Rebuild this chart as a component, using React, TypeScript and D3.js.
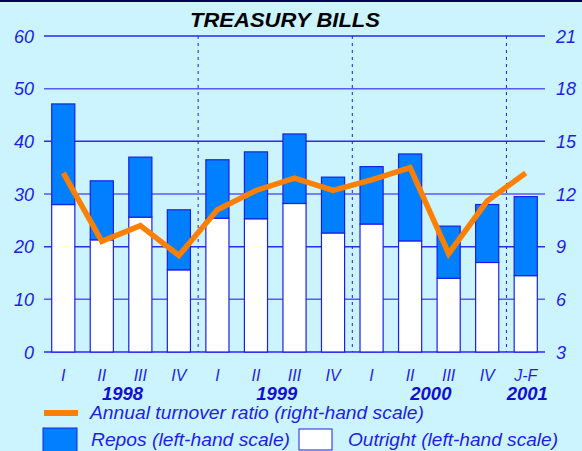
import * as d3 from "d3";
import React from "react";

const quarters = ["I", "II", "III", "IV", "I", "II", "III", "IV", "I", "II", "III", "IV", "J-F"];
const outright = [28.0, 21.3, 25.6, 15.6, 25.4, 25.3, 28.2, 22.6, 24.3, 21.1, 14.0, 17.0, 14.5];
const repos = [19.1, 11.2, 11.4, 11.4, 11.1, 12.7, 13.2, 10.6, 10.9, 16.5, 9.9, 11.0, 15.0];
const turnover = [13.2, 9.3, 10.2, 8.5, 11.1, 12.2, 12.9, 12.2, 12.8, 13.5, 8.6, 11.6, 13.2];
const years = [
  { label: "1998", from: 1, to: 2 },
  { label: "1999", from: 5, to: 6 },
  { label: "2000", from: 9, to: 10 },
  { label: "2001", from: 12, to: 12 },
];
const leftTicks = [0, 10, 20, 30, 40, 50, 60];
const rightTicks = [3, 6, 9, 12, 15, 18, 21];
const yearBreaks = [3, 7, 11];

const W = 582;
const H = 451;
const BLUE = "#1e1ee6";
const FONT = "'Liberation Sans', Arial, sans-serif";

export default function App() {
  const x = d3
    .scaleBand<number>()
    .domain(d3.range(quarters.length))
    .range([44, 545])
    .paddingInner(0.4)
    .paddingOuter(0.2);
  const yL = d3.scaleLinear().domain([0, 60]).range([352, 36]);
  const yR = d3.scaleLinear().domain([3, 21]).range([352, 36]);
  const cx = (i: number) => (x(i) as number) + x.bandwidth() / 2;

  const line = d3
    .line<number>()
    .x((_, i) => cx(i))
    .y((d) => yR(d));

  return (
    <svg
      width={W}
      height={H}
      style={{ position: "fixed", left: 0, top: 0, display: "block" }}
      fontFamily={FONT}
    >
      <rect width={W} height={H} fill="#ccf4ff" />
      <line x1={0} x2={W} y1={1} y2={1} stroke="#000060" strokeWidth={2} />
      <text
        x={285}
        y={27}
        textAnchor="middle"
        fontSize={21}
        fontWeight="bold"
        fontStyle="italic"
        fill="#000"
        textLength={190}
        lengthAdjust="spacingAndGlyphs"
      >
        TREASURY BILLS
      </text>

      {leftTicks.map((t, i) => (
        <g key={t}>
          <line
            x1={44}
            x2={545}
            y1={yL(t)}
            y2={yL(t)}
            stroke={i % 2 === 0 ? "#2a2af0" : "#5a5af5"}
            strokeWidth={1.5}
          />
          <text
            x={34}
            y={yL(t) + 6.5}
            textAnchor="end"
            fontSize={18}
            fontStyle="italic"
            fill={BLUE}
          >
            {t}
          </text>
          <text
            x={556}
            y={yR(rightTicks[i]) + 6.5}
            fontSize={18}
            fontStyle="italic"
            fill={BLUE}
          >
            {rightTicks[i]}
          </text>
        </g>
      ))}

      {yearBreaks.map((b) => {
        const xb = ((x(b) as number) + x.bandwidth() + (x(b + 1) as number)) / 2;
        return (
          <line
            key={b}
            x1={xb}
            x2={xb}
            y1={yL(60)}
            y2={yL(0)}
            stroke="#1e1ee6"
            strokeWidth={1}
            strokeDasharray="3,4"
          />
        );
      })}

      {quarters.map((q, i) => (
        <g key={i}>
          <rect
            x={x(i)}
            y={yL(outright[i])}
            width={x.bandwidth()}
            height={yL(0) - yL(outright[i])}
            fill="#fff"
            stroke="#1e1ee6"
            strokeWidth={1.2}
          />
          <rect
            x={x(i)}
            y={yL(outright[i] + repos[i])}
            width={x.bandwidth()}
            height={yL(outright[i]) - yL(outright[i] + repos[i])}
            fill="#0080ff"
            stroke="#1e1ee6"
            strokeWidth={1.2}
          />
          <text
            x={cx(i)}
            y={381}
            textAnchor="middle"
            fontSize={16}
            fontStyle="italic"
            fill={BLUE}
          >
            {q}
          </text>
        </g>
      ))}

      <path
        d={line(turnover) || ""}
        fill="none"
        stroke="#ff8000"
        strokeWidth={5.5}
        strokeLinejoin="miter"
      />

      {years.map((y) => (
        <text
          key={y.label}
          x={(cx(y.from) + cx(y.to)) / 2 + 1.5}
          y={400}
          textAnchor="middle"
          fontSize={18.5}
          fontWeight="bold"
          fontStyle="italic"
          fill="#1010d0"
        >
          {y.label}
        </text>
      ))}

      <line x1={44} x2={78} y1={413} y2={413} stroke="#ff8000" strokeWidth={6} />
      <text
        x={90}
        y={419}
        fontSize={17.5}
        fontStyle="italic"
        fill={BLUE}
        textLength={334}
        lengthAdjust="spacingAndGlyphs"
      >
        Annual turnover ratio (right-hand scale)
      </text>
      <rect x={43} y={428} width={34} height={24} fill="#0080ff" stroke="#1e1ee6" strokeWidth={1} />
      <text
        x={91}
        y={446}
        fontSize={17.5}
        fontStyle="italic"
        fill={BLUE}
        textLength={199}
        lengthAdjust="spacingAndGlyphs"
      >
        Repos (left-hand scale)
      </text>
      <rect x={299} y={429} width={33} height={21} fill="#fff" stroke="#1e1ee6" strokeWidth={1} />
      <text
        x={348}
        y={446}
        fontSize={17.5}
        fontStyle="italic"
        fill={BLUE}
        textLength={210}
        lengthAdjust="spacingAndGlyphs"
      >
        Outright (left-hand scale)
      </text>
    </svg>
  );
}
